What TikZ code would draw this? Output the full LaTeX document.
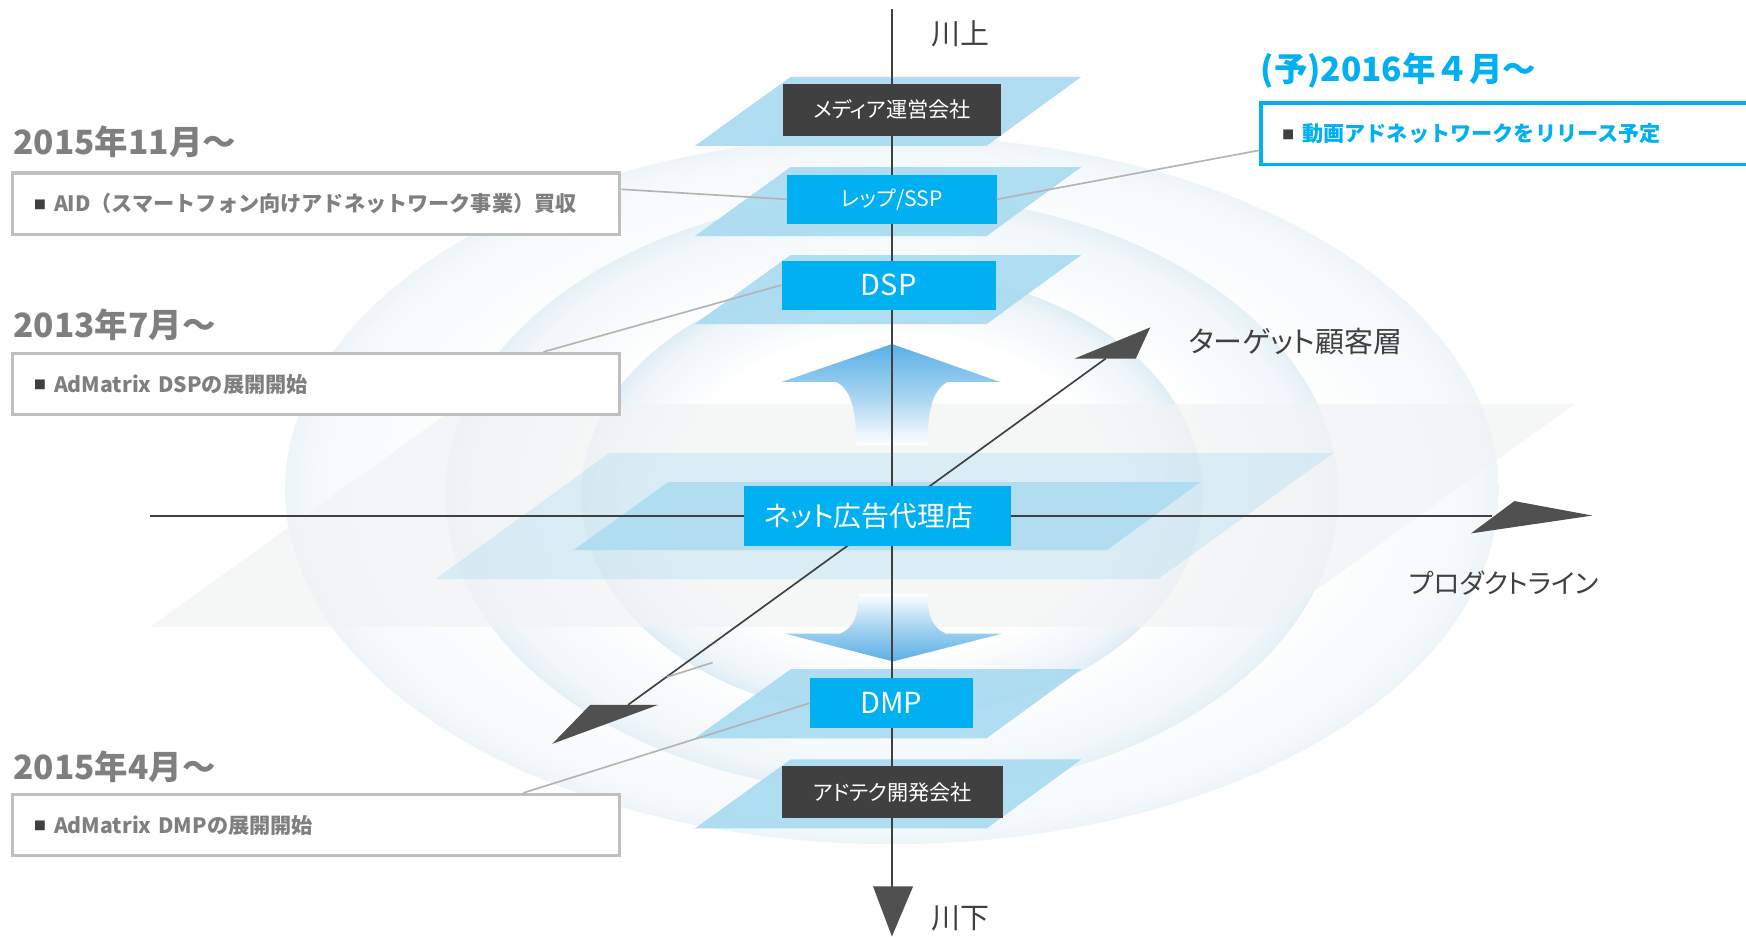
\documentclass[tikz,border=0pt]{standalone}
\usepackage{fontspec}
\setmainfont{Noto Sans CJK JP}[RawFeature=+palt]
\newfontfamily\jpwide{Noto Sans CJK JP}
\usetikzlibrary{positioning, calc}
\definecolor{boxblue}{HTML}{00B0F0}
\definecolor{boxdark}{HTML}{404040}
\definecolor{axisgray}{HTML}{404040}
\definecolor{headgray}{HTML}{505050}
\definecolor{notegray}{HTML}{7F7F7F}
\definecolor{framegray}{HTML}{BFBFBF}
\definecolor{leadgray}{HTML}{B4B4B4}
\definecolor{planeblue}{HTML}{A8DAF1}
\definecolor{arrowblue}{HTML}{5AAFE5}
\definecolor{ringblue}{HTML}{E4F0F6}
\definecolor{ringedge}{HTML}{CDE4F0}
\definecolor{graysheet}{HTML}{F2F3F4}
\pgfdeclareradialshading{ringfade}{\pgfpointorigin}{color(0bp)=(white); color(18bp)=(white); color(23.5bp)=(ringblue); color(25bp)=(ringedge); color(50bp)=(ringedge)}
\newcommand\fsz[1]{\fontsize{#1}{#1}\selectfont}
\newcommand\sqmark{\raisebox{2pt}{\color{boxdark}\fsz{11}■}\hspace{7pt}}

\begin{document}
\begin{tikzpicture}[x=1pt, y=-1pt, >=latex,
  layer/.style={fill=planeblue, opacity=.9},
  bluebox/.style={fill=boxblue, text=white, inner sep=0pt},
  darkbox/.style={fill=boxdark, text=white, inner sep=0pt, font=\fsz{19}},
  note/.style={draw=framegray, line width=3pt, fill=white, inner xsep=19pt, inner ysep=0pt, minimum height=55pt, text width=507pt, align=left, anchor=north west, text=notegray, font=\jpwide\bfseries\fsz{19}},
  date/.style={anchor=west, inner sep=0pt, text=notegray, font=\jpwide\bfseries\fsz{30}},
  axlabel/.style={anchor=west, inner sep=0pt, text=axisgray, font=\fsz{26}},
  axis/.style={draw=axisgray, line width=1.8pt},
  tip/.style={fill=headgray},
  leader/.style={draw=leadgray, line width=1.5pt}]

\clip (0,0) rectangle (1568,841);
\fill[white] (0,0) rectangle (1568,841);

% rings
\foreach \rx/\ry/\cy/\op in {545/318/440/.35, 401/268/444/.5, 279/200/444/.65}{
  \fill[white] (801,\cy) ellipse [x radius=\rx pt, y radius=\ry pt];
  \shade[shading=ringfade, opacity=\op] (801,\cy) ellipse [x radius=\rx pt, y radius=\ry pt];
}

\fill[graysheet, opacity=.75] (413,363) -- (1414,363) -- (1136,563) -- (135,563) -- cycle;
\fill[planeblue, opacity=.35] (547,407) -- (1197,407) -- (1040,520) -- (391,520) -- cycle;
\fill[planeblue, opacity=.8] (600,433) -- (1078,433) -- (994,494) -- (515,494) -- cycle;
\foreach \t in {69,150,229,601,682}
  \fill[layer] (710,\t) -- (971,\t) -- (886,\t+62) -- (624,\t+62) -- cycle;

\shade[top color=arrowblue, bottom color=white, middle color=arrowblue!55!white]
  (801,309) -- (898,343) -- (851,343) .. controls (837,350) and (833,370) .. (833,400)
  -- (769,400) .. controls (769,370) and (765,350) .. (751,343) -- (702,343) -- cycle;
\shade[top color=white, bottom color=arrowblue, middle color=arrowblue!55!white]
  (771,533) -- (833,533) .. controls (833,553) and (837,563) .. (849,569) -- (900,569)
  -- (802,594) -- (705,569) -- (755,569) .. controls (767,563) and (771,553) .. (771,533) -- cycle;

\coordinate (axtop) at (801,8);
\coordinate (axbot) at (801,797);
\coordinate (axleft) at (135,463);
\coordinate (axright) at (1340,463);
\coordinate (axnear) at (564,633);
\coordinate (axfar) at (993,322);
\draw[axis] (axtop) -- (axbot);
\draw[axis] (axleft) -- (axright);
\draw[axis, line width=1.5pt] (axnear) -- (axfar);
\fill[tip] (784,796) -- (820,796) -- (801,841) -- cycle;
\fill[tip] (1360,450) -- (1430,463) -- (1321,479) -- cycle;
\fill[tip] (965,322) -- (1033,294) -- (1020,322) -- cycle;
\fill[tip] (530,633) -- (591,633) -- (496,668) -- cycle;

\node[darkbox, minimum width=196pt, minimum height=47pt] (media) at (801,98.5) {メディア運営会社};
\node[bluebox, minimum width=188pt, minimum height=44pt, font=\fsz{19}] (ssp) at (801,179) {レップ/SSP};
\node[bluebox, minimum width=192pt, minimum height=44pt, font=\fsz{26}] (dsp) at (798,256) {DSP};
\node[bluebox, minimum width=240pt, minimum height=54pt, font=\fsz{25}] (agency) at (788,463) {ネット広告代理店\hspace*{16pt}};
\node[bluebox, minimum width=147pt, minimum height=45pt, font=\fsz{26}] (dmp) at (800.5,631.5) {DMP};
\node[darkbox, minimum width=199pt, minimum height=47pt] (adtech) at (801.5,711.5) {アドテク開発会社};

\node[note] (aid) at (10,154) {\sqmark AID（スマートフォン向けアドネットワーク事業）買収};
\node[note] (dspnote) at (10,316) {\sqmark AdMatrix DSPの展開開始};
\node[note] (dmpnote) at (10,712) {\sqmark AdMatrix DMPの展開開始};
\node[note, draw=boxblue, text=boxblue, text width=420pt] (movie) at (1131,91) {\sqmark 動画アドネットワークをリリース予定};

\node[date] (d1) at (12,127) {2015年11月〜};
\node[date] (d2) at (12,292) {2013年7月〜};
\node[date] (d3) at (12,689) {2015年4月〜};
\node[date, text=boxblue] (d4) at (1132,63) {(予)2016年４月〜};

\node[axlabel] (kawakami) at (836,30) {川上};
\node[axlabel] (kawashimo) at (836,825) {川下};
\node[axlabel] (target) at (1067,307) {ターゲット顧客層};
\node[axlabel, font=\fsz{24}] (product) at (1265,524) {プロダクトライン};

\draw[leader] ([yshift=-16pt]aid.north east) -- (ssp.west);
\draw[leader] (ssp.east) -- ([yshift=-15pt]movie.west);
\draw[leader] (dsp.west) -- ([xshift=-70pt]dspnote.north east);
\draw[leader] (dmp.west) -- ([xshift=-88pt]dmpnote.north east);
\coordinate (s1) at (599,608);
\coordinate (s2) at (640,595);
\draw[leader] (s1) -- (s2);
\end{tikzpicture}
\end{document}
